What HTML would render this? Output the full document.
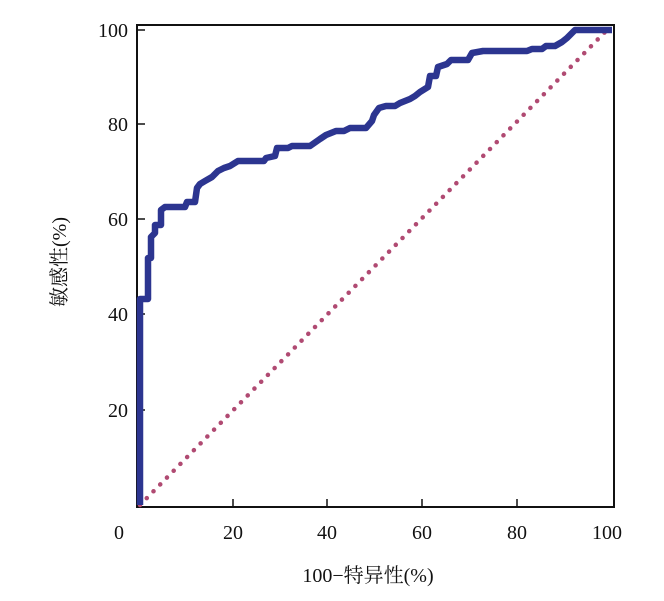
<!DOCTYPE html>
<html><head><meta charset="utf-8"><style>
body{margin:0;background:#fff}
text{font-family:"Liberation Serif","Noto Serif CJK SC",serif;font-size:20px;fill:#111}
</style></head><body>
<svg width="664" height="596" viewBox="0 0 664 596">
<rect x="137" y="25" width="477" height="482" fill="none" stroke="#111" stroke-width="2"/>
<g stroke="#111" stroke-width="1.5">
<line x1="137" y1="30" x2="145" y2="30"/><line x1="137" y1="124" x2="145" y2="124"/><line x1="137" y1="219" x2="145" y2="219"/><line x1="137" y1="314" x2="145" y2="314"/><line x1="137" y1="410" x2="145" y2="410"/>
<line x1="233" y1="507" x2="233" y2="499"/><line x1="327" y1="507" x2="327" y2="499"/><line x1="422" y1="507" x2="422" y2="499"/><line x1="517" y1="507" x2="517" y2="499"/>
</g>
<line x1="140" y1="505" x2="607" y2="30" stroke="#b04a72" stroke-width="4.5" stroke-dasharray="0.1 9.5" stroke-linecap="round"/>
<polyline fill="none" stroke="#2c3590" stroke-width="6.5" stroke-linejoin="round" points="140,505 140,299 148,299 148,258 151,258 151,237 155,233 155,225 161,225 161,210 165,207 185,207 187,202 195,202 197,188 200,184 205,181 212,177 218,171 224,168 230,166 238,161 264,161 266,158 275,156 277,148 288,148 292,146 310,146 320,139 326,135 336,131 344,131 350,128 366,128 372,121 374,115 379,108 386,106 395,106 400,103 410,99 415,96 420,92 428,87 430,76 436,76 438,67 447,64 451,60 468,60 472,53 483,51 527,51 532,49 542,49 546,46 555,46 562,42 567,38 572,33 575,30 612,30"/>
<text x="128" y="37" text-anchor="end">100</text>
<text x="128" y="131" text-anchor="end">80</text>
<text x="128" y="226" text-anchor="end">60</text>
<text x="128" y="321" text-anchor="end">40</text>
<text x="128" y="417" text-anchor="end">20</text>
<text x="119" y="539" text-anchor="middle">0</text>
<text x="233" y="539" text-anchor="middle">20</text>
<text x="327" y="539" text-anchor="middle">40</text>
<text x="422" y="539" text-anchor="middle">60</text>
<text x="517" y="539" text-anchor="middle">80</text>
<text x="607" y="539" text-anchor="middle">100</text>
<text x="368" y="582" text-anchor="middle">100−特异性(%)</text>
<text transform="translate(66,262) rotate(-90)" text-anchor="middle">敏感性(%)</text>
</svg>
</body></html>
